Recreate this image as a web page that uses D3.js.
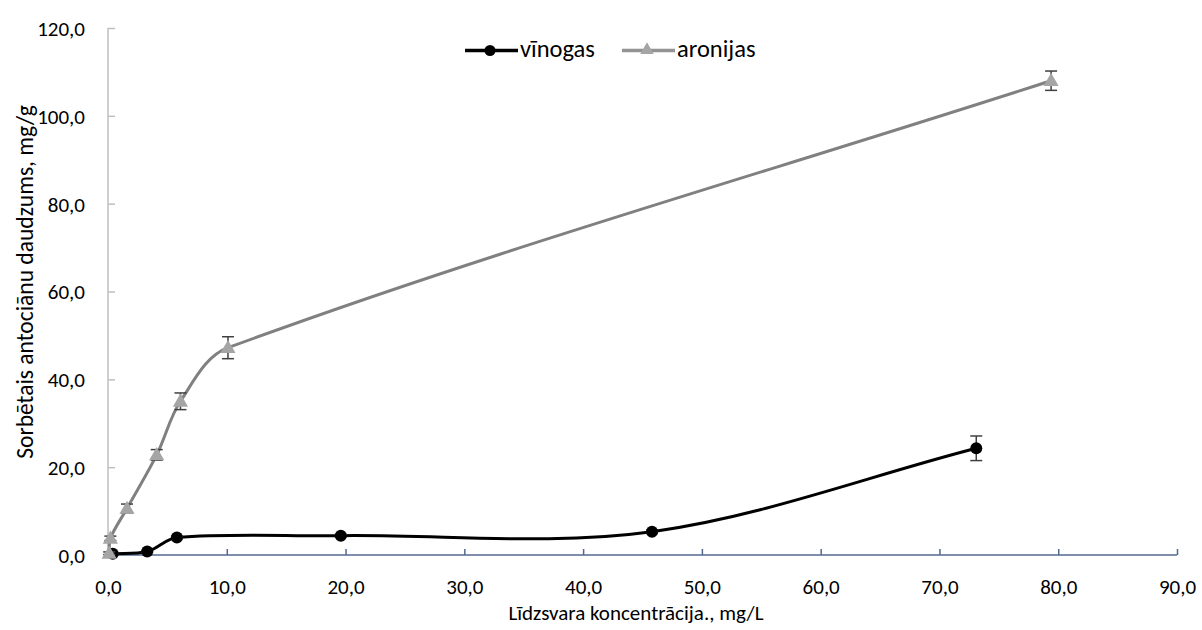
<!DOCTYPE html>
<html><head><meta charset="utf-8">
<script src="https://cdn.jsdelivr.net/npm/d3@7"></script>
<style>
body{margin:0;background:#fff;}
text{font-family:Carlito,Calibri,Lato,sans-serif;fill:#000;}
</style></head>
<body><svg id="c" width="1202" height="630"></svg>
<script>
// data
const seriesNames = ["vīnogas", "aronijas"];
const vinogasX = [0.4, 3.3, 5.8, 19.6, 45.8, 73.1];
const vinogasY = [0.3, 0.8, 4.0, 4.4, 5.3, 24.3];
const vinogasErr = [0.2, 0.2, 0.3, 0.3, 0.4, 2.8];
const aronijasX = [0.1, 0.2, 1.6, 4.1, 6.1, 10.1, 79.4];
const aronijasY = [0.4, 3.8, 10.6, 22.8, 35.0, 47.2, 108.0];
const aronijasErr = [0.3, 0.5, 1.0, 1.2, 1.9, 2.5, 2.2];
const xTicks = [0, 10, 20, 30, 40, 50, 60, 70, 80, 90];
const yTicks = [0, 20, 40, 60, 80, 100, 120];
const xTitle = "Līdzsvara koncentrācija., mg/L";
const yTitle = "Sorbētais  antociānu daudzums, mg/g";

const svg = d3.select("#c");
const x = d3.scaleLinear().domain([0, 90]).range([108, 1177]);
const y = d3.scaleLinear().domain([0, 120]).range([555, 28]);
const fmt = d => d3.format(".1f")(d).replace(".", ",");

// y axis
const ya = svg.append("g").attr("transform", `translate(${x(0)},0)`)
  .call(d3.axisLeft(y).tickValues(yTicks).tickSize(-7).tickPadding(23).tickFormat(fmt));
ya.select(".domain").attr("stroke", "#bfbfbf").attr("stroke-width", 1.5).attr("d", `M0,${y(120)}V${y(0)}`);
ya.selectAll(".tick line").attr("stroke", "#bfbfbf").attr("stroke-width", 1.5);
ya.selectAll(".tick text").style("font-size", "21px").attr("dy", "0.35em");

// x axis
const xa = svg.append("g").attr("transform", `translate(0,${y(0)})`)
  .call(d3.axisBottom(x).tickValues(xTicks).tickSize(-6).tickPadding(24).tickFormat(fmt));
xa.select(".domain").attr("stroke", "#53688f").attr("stroke-width", 1.5).attr("d", `M${x(0)},0H${x(90)}`);
xa.selectAll(".tick line").attr("stroke", "#53688f").attr("stroke-width", 1.5);
xa.selectAll(".tick text").style("font-size", "21px");
xa.selectAll(".tick").filter(d => d === 0).select("line").remove();

// titles
svg.append("text").attr("x", 636).attr("y", 620).attr("text-anchor", "middle")
  .style("font-size", "21px").text(xTitle);
svg.append("text").attr("transform", "translate(33,282) rotate(-90)").attr("text-anchor", "middle")
  .style("font-size", "23.5px").text(yTitle);

// smooth path (Excel-like): tangent direction from neighbours, handle length from segment length
function smoothPath(data) {
  const p = data.map(d => [x(d[0]), y(d[1])]);
  const n = p.length;
  const T = p.map((_, i) => {
    const a = p[Math.max(i - 1, 0)], b = p[Math.min(i + 1, n - 1)];
    const dx = b[0] - a[0], dy = b[1] - a[1], L = Math.hypot(dx, dy) || 1;
    return [dx / L, dy / L];
  });
  const path = d3.path();
  path.moveTo(p[0][0], p[0][1]);
  for (let i = 0; i < n - 1; i++) {
    const d = Math.hypot(p[i + 1][0] - p[i][0], p[i + 1][1] - p[i][1]) / 3;
    path.bezierCurveTo(p[i][0] + T[i][0] * d, p[i][1] + T[i][1] * d,
      p[i + 1][0] - T[i + 1][0] * d, p[i + 1][1] - T[i + 1][1] * d,
      p[i + 1][0], p[i + 1][1]);
  }
  return path.toString();
}
const vin = vinogasX.map((v, i) => [v, vinogasY[i], vinogasErr[i]]);
const aro = aronijasX.map((v, i) => [v, aronijasY[i], aronijasErr[i]]);

function errBars(data) {
  const g = svg.append("g").attr("stroke", "#404040").attr("stroke-width", 1.5);
  data.forEach(d => {
    const cx = x(d[0]), y1 = y(d[1] + d[2]), y2 = y(d[1] - d[2]);
    g.append("line").attr("x1", cx).attr("x2", cx).attr("y1", y1).attr("y2", y2);
    g.append("line").attr("x1", cx - 6).attr("x2", cx + 6).attr("y1", y1).attr("y2", y1);
    g.append("line").attr("x1", cx - 6).attr("x2", cx + 6).attr("y1", y2).attr("y2", y2);
  });
}
const tri = d3.symbol().type(d3.symbolTriangle).size(100);
const triS = d3.symbol().type(d3.symbolTriangle).size(80);

// vinogas
svg.append("path").attr("d", smoothPath(vin)).attr("fill", "none").attr("stroke", "#000").attr("stroke-width", 3);
errBars(vin);
svg.append("g").selectAll("circle").data(vin).join("circle")
  .attr("cx", d => x(d[0])).attr("cy", d => y(d[1])).attr("r", 6).attr("fill", "#000");

// aronijas
svg.append("path").attr("d", smoothPath(aro)).attr("fill", "none").attr("stroke", "#808080").attr("stroke-width", 3);
errBars(aro);
svg.append("g").selectAll("path").data(aro).join("path")
  .attr("d", tri).attr("transform", d => `translate(${x(d[0])},${y(d[1]) + 1})`).attr("fill", "#a5a5a5");

// legend
const lg = svg.append("g");
lg.append("line").attr("x1", 465).attr("x2", 518).attr("y1", 50.5).attr("y2", 50.5).attr("stroke", "#000").attr("stroke-width", 3.5);
lg.append("circle").attr("cx", 490).attr("cy", 50.5).attr("r", 5.5).attr("fill", "#000");
lg.append("text").attr("x", 520).attr("y", 57).style("font-size", "24.5px").text(seriesNames[0]);
lg.append("line").attr("x1", 622).attr("x2", 675).attr("y1", 50.5).attr("y2", 50.5).attr("stroke", "#939393").attr("stroke-width", 3.5);
lg.append("path").attr("d", triS).attr("transform", "translate(647,50)").attr("fill", "#a5a5a5");
lg.append("text").attr("x", 677).attr("y", 57).style("font-size", "24.5px").text(seriesNames[1]);
</script></body></html>
